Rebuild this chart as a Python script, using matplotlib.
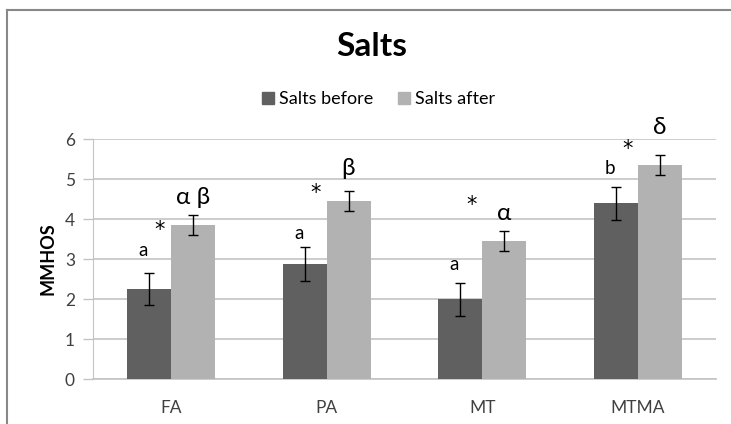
import numpy as np
import matplotlib
matplotlib.use("Agg")
import matplotlib.pyplot as plt
from matplotlib.lines import Line2D

plt.rcParams['font.family'] = ['Lato', 'DejaVu Sans']

# data
categories = ['FA', 'PA', 'MT', 'MTMA']
salts_before = [2.26, 2.88, 1.99, 4.39]
salts_before_err = [0.40, 0.42, 0.41, 0.41]
salts_after = [3.85, 4.45, 3.44, 5.35]
salts_after_err = [0.24, 0.24, 0.25, 0.26]

# significance marks
before_marks = ['a', 'a', 'a', 'b']
after_marks = ['α β', 'β', 'α', 'δ']
star_marks = ['*', '*', '*', '*']
before_mark_y = [3.21, 3.63, 2.86, 5.27]
star_mark_y = [3.72, 4.64, 4.36, 5.76]
after_mark_y = [4.55, 5.27, 4.15, 6.30]

dark = '#606060'
light = '#b2b2b2'
grid_col = '#c4c4c4'

fig = plt.figure(figsize=(7.31, 4.24), dpi=100)
ax = fig.add_axes([93 / 731, 45 / 424, 623 / 731, 240 / 424])

x = np.arange(len(categories))
w = 0.283
ax.bar(x - w / 2, salts_before, w, color=dark, label='Salts before', zorder=3)
ax.bar(x + w / 2, salts_after, w, color=light, label='Salts after', zorder=3)
ax.errorbar(x - w / 2, salts_before, yerr=salts_before_err, fmt='none',
            ecolor='black', elinewidth=1, capsize=3.3, capthick=1, zorder=4)
ax.errorbar(x + w / 2, salts_after, yerr=salts_after_err, fmt='none',
            ecolor='black', elinewidth=1, capsize=3.3, capthick=1, zorder=4)

for i in range(len(categories)):
    ax.text(x[i] - 0.18, before_mark_y[i], before_marks[i], ha='center', va='center',
            fontsize=13.5, color='black')
    ax.text(x[i] - 0.07, star_mark_y[i], star_marks[i], ha='center', va='center',
            fontsize=15, color='black', family='DejaVu Sans')
    ax.text(x[i] + 0.14, after_mark_y[i], after_marks[i], ha='center', va='center',
            fontsize=17.5, color='black', clip_on=False)

ax.set_xlim(-0.5, 3.5)
ax.set_ylim(0, 6)
ax.set_yticks(range(0, 7))
ax.set_xticks(x)
ax.set_xticklabels(categories)
ax.tick_params(axis='x', length=0, pad=15, labelsize=12.5, colors='#404040')
ax.tick_params(axis='y', length=7, width=1, color=grid_col, pad=6, labelsize=12.5,
               labelcolor='#404040')
ax.yaxis.grid(True, color=grid_col, linewidth=1.2, zorder=0)
ax.set_axisbelow(True)
for s in ['top', 'right']:
    ax.spines[s].set_visible(False)
ax.spines['left'].set_color(grid_col)
ax.spines['bottom'].set_color(grid_col)
ax.spines['bottom'].set_linewidth(1.2)
ax.set_ylabel('MMHOS', fontsize=13, fontweight='bold', labelpad=6)

fig.text(372 / 731, 1 - 47 / 424, 'Salts', ha='center', va='center',
         fontsize=24, fontweight='bold')

handles = [Line2D([], [], marker='s', linestyle='none', markersize=8, color=dark),
           Line2D([], [], marker='s', linestyle='none', markersize=8, color=light)]
fig.legend(handles, ['Salts before', 'Salts after'], loc='center',
           bbox_to_anchor=(377 / 731, 1 - 99 / 424), ncol=2, frameon=False,
           fontsize=13, handletextpad=0.1, columnspacing=1.2, handlelength=1.0)

# chart border (left and top edges visible)
fig.add_artist(Line2D([7 / 731, 7 / 731], [0, 1 - 10 / 424], color='#888888',
                      linewidth=1.5, transform=fig.transFigure))
fig.add_artist(Line2D([7 / 731, 1], [1 - 10 / 424, 1 - 10 / 424], color='#888888',
                      linewidth=1.5, transform=fig.transFigure))

fig.savefig('out.png', dpi=100)
